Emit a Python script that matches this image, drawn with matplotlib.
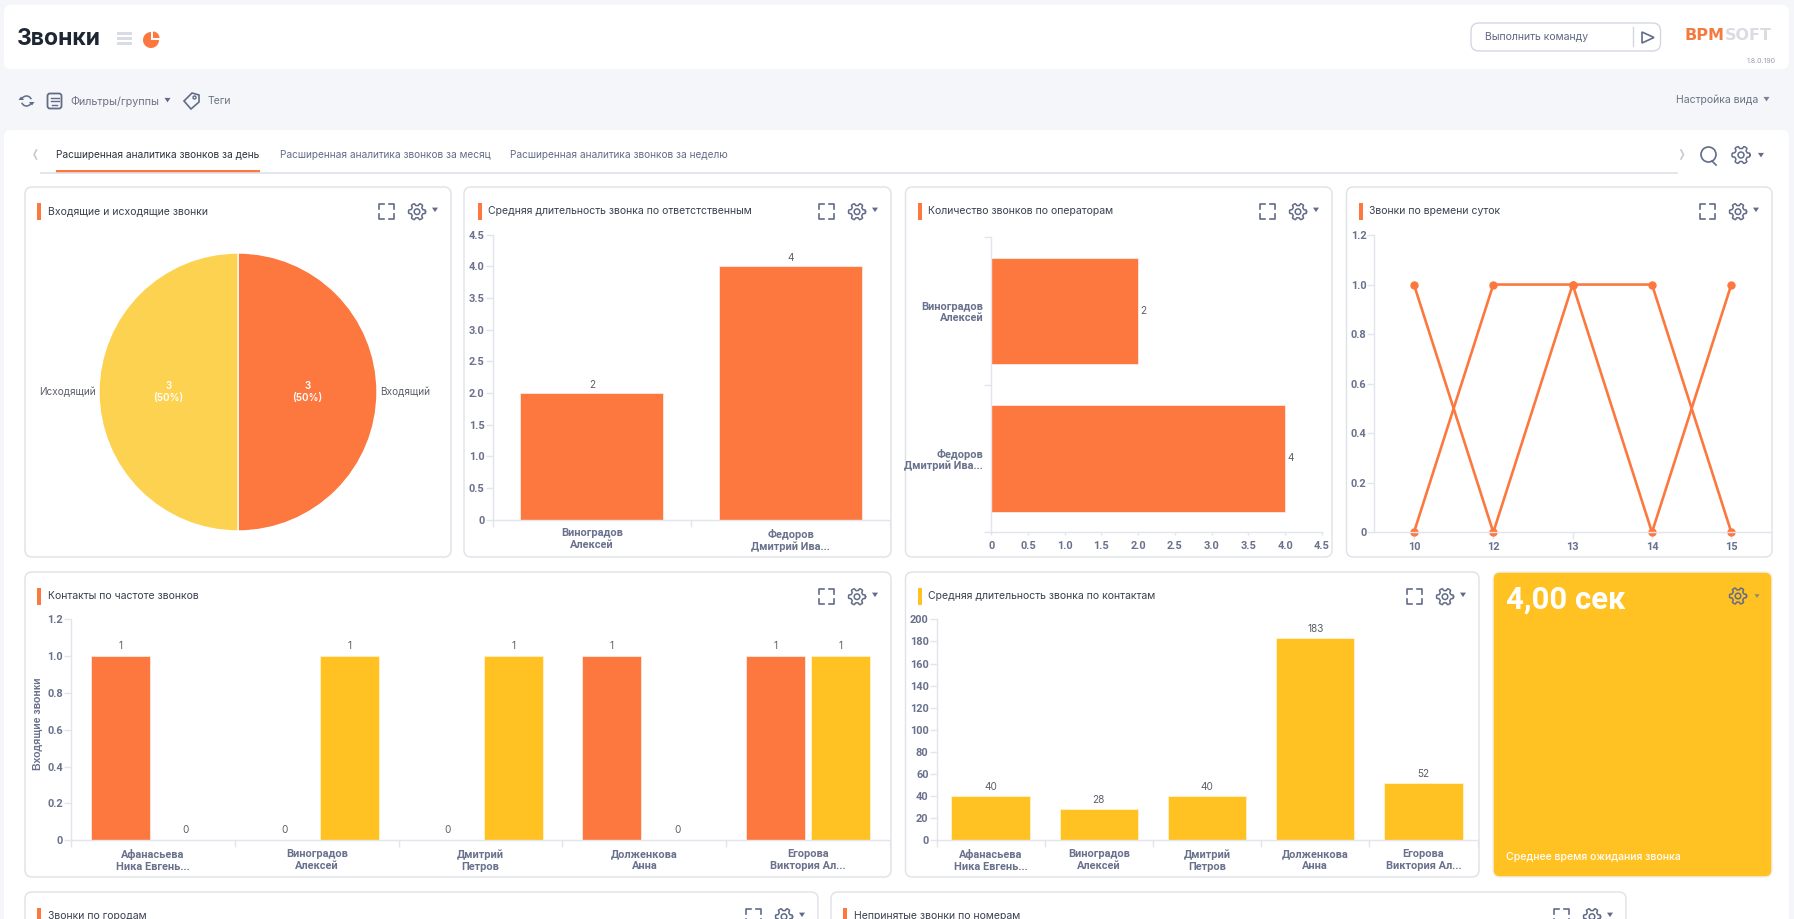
import matplotlib
matplotlib.use("Agg")
import matplotlib.pyplot as plt
import numpy as np
from matplotlib.patches import FancyBboxPatch, Rectangle, Wedge, Circle, Polygon, Arc

W, H = 1794, 919
ORANGE = "#FC783F"
YELLOW = "#FFC222"
PIE_YELLOW = "#FDD250"
AXIS = "#E3E5EC"
TICK = "#69718C"
BORDER = "#DFE1E7"
ICON = "#626C89"
TICK_FONT = {"family": "Roboto", "weight": "bold"}

plt.rcParams["font.family"] = ["Inter", "Roboto", "DejaVu Sans"]

call_types = ["Входящий", "Исходящий"]
call_type_counts = [3, 3]

operators = ["Виноградов\nАлексей", "Федоров\nДмитрий Ива..."]
operator_duration = [2, 4]
operator_calls = [2, 4]
half_ticks = ["0", "0.5", "1.0", "1.5", "2.0", "2.5", "3.0", "3.5", "4.0", "4.5"]
half_values = [0, 0.5, 1, 1.5, 2, 2.5, 3, 3.5, 4, 4.5]

hours = ["10", "12", "13", "14", "15"]
hours_a = [1, 0, 1, 0, 1]
hours_b = [0, 1, 1, 1, 0]
fifth_ticks = ["0", "0.2", "0.4", "0.6", "0.8", "1.0", "1.2"]
fifth_values = [0, 0.2, 0.4, 0.6, 0.8, 1.0, 1.2]

contacts = ["Афанасьева\nНика Евгень...", "Виноградов\nАлексей", "Дмитрий\nПетров",
            "Долженкова\nАнна", "Егорова\nВиктория Ал..."]
contacts_in = [1, 0, 0, 1, 1]
contacts_out = [0, 1, 1, 0, 1]
contact_duration = [40, 28, 40, 183, 52]
duration_values = list(range(0, 201, 20))


def px(size):
    # pixel size to points at dpi 100
    return size * 0.72


fig = plt.figure(figsize=(W / 100, H / 100), dpi=100, facecolor="#F4F6FA")
ui = fig.add_axes([0, 0, 1, 1])
ui.set_xlim(0, W)
ui.set_ylim(H, 0)
ui.axis("off")


def label(x, y, s, size=11, color="#5F6880", ha="left", weight="normal", **kw):
    ui.text(x, y, s, fontsize=px(size), color=color, ha=ha, va="center", weight=weight, **kw)


def card(x0, y0, x1, y1, face="white", edge=BORDER, r=7):
    ui.add_patch(FancyBboxPatch((x0 + r, y0 + r), x1 - x0 - 2 * r, y1 - y0 - 2 * r,
                                boxstyle=f"round,pad={r},rounding_size={r}",
                                fc=face, ec=edge, lw=1))


def triangle(x, y, s=3, color=ICON):
    ui.add_patch(Polygon([(x - s, y - s * 0.7), (x + s, y - s * 0.7), (x, y + s * 0.8)], fc=color, ec="none"))


def gear(x, y, r=8.5, color=ICON):
    ang = np.linspace(0, 2 * np.pi, 145)
    rad = r * (0.86 + 0.14 * np.tanh(3.5 * np.cos(6 * ang)))
    ui.plot(x + rad * np.cos(ang), y + rad * np.sin(ang), color=color, lw=1.1)
    ui.add_patch(Circle((x, y), r * 0.33, fc="none", ec=color, lw=1.1))


def fullscreen(x0, y0, x1, y1, color=ICON):
    s = 5
    for cx, cy, dx, dy in [(x0, y0, 1, 1), (x1, y0, -1, 1), (x0, y1, 1, -1), (x1, y1, -1, -1)]:
        ui.plot([cx, cx, cx + dx * s], [cy + dy * s, cy, cy], color=color, lw=1.2)


def panel(x0, y0, x1, y1, title, accent=ORANGE, inset=12):
    card(x0, y0, x1, y1)
    mid = y0 + 24.7
    ui.add_patch(Rectangle((x0 + inset, mid - 8.5), 4, 17, fc=accent, ec="none"))
    label(x0 + inset + 10.5, mid - 0.8, title, size=10.5, color="#3A4150")
    fullscreen(x1 - 72, mid - 7.5, x1 - 57, mid + 7.5)
    gear(x1 - 34, mid)
    triangle(x1 - 16, mid - 2)


def chart_axes(x0, x1, y_top, y_bottom):
    ax = fig.add_axes([x0 / W, 1 - y_bottom / H, (x1 - x0) / W, (y_bottom - y_top) / H])
    ax.patch.set_alpha(0)
    for side in ["top", "right"]:
        ax.spines[side].set_visible(False)
    for side in ["left", "bottom"]:
        ax.spines[side].set_color(AXIS)
        ax.spines[side].set_linewidth(1)
    ax.tick_params(which="both", color=AXIS, labelcolor=TICK, labelsize=px(11), length=px(7), width=1, pad=px(1))
    return ax


def set_value_ticks(ax, values, names):
    ax.set_yticks(values, names, **TICK_FONT)


def set_band_ticks(ax, names, axis="x", pad=9):
    n = len(names)
    edges = np.arange(n + 1) - 0.5
    centres = np.arange(n)
    if axis == "x":
        ax.set_xlim(-0.5, n - 0.5)
        ax.set_xticks(edges, [""] * (n + 1))
        ax.set_xticks(centres, names, minor=True, linespacing=1.25, **TICK_FONT)
        ax.tick_params(axis="x", which="minor", length=0, pad=px(pad))
    else:
        ax.set_ylim(n - 0.5, -0.5)
        ax.set_yticks(edges, [""] * (n + 1))
        ax.set_yticks(centres, names, minor=True, linespacing=1.1, **TICK_FONT)
        ax.tick_params(axis="y", which="minor", length=0, pad=px(pad))


def bar_labels(ax, bars, size=10, padding=2):
    ax.bar_label(bars, fontsize=px(size), color="#5B5F68", padding=padding)


# page chrome
card(4, 5, 1789, 69, edge="none")
card(4, 130, 1789, 960, edge="none")
label(17, 39, "Звонки", size=23, color="#1E2633", weight="bold")
for yy in [33.5, 38.5, 43.5]:
    ui.add_patch(Rectangle((116.5, yy - 1.5), 15.5, 3, fc="#D9DCE4", ec="none"))
ui.add_patch(Wedge((151, 40), 8, 0, 270, fc=ORANGE, ec="none"))
ui.add_patch(Wedge((153, 38), 6.5, 270, 360, fc=ORANGE, ec="none"))

card(1471, 23, 1660.5, 51, edge="#D4D7E1", r=8)
label(1485, 37.5, "Выполнить команду", size=10.5)
ui.plot([1632.5, 1632.5], [27, 46], color="#D4D7E1", lw=1)
ui.add_patch(Polygon([(1642, 32), (1654, 37.5), (1642, 43)], fc="none", ec=ICON, lw=1.2))
label(1684, 36, "BPM", size=16, color="#F47B3F", weight="bold", family="DejaVu Sans")
label(1725, 36, "SOFT", size=16, color="#DADCE2", weight="bold", family="DejaVu Sans")
label(1776, 61, "1.8.0.190", size=7, color="#9A9DA8", ha="right")

ui.add_patch(Arc((26.5, 101), 10, 10, theta1=200, theta2=340, color=ICON, lw=1.1))
ui.add_patch(Arc((26.5, 101), 10, 10, theta1=20, theta2=160, color=ICON, lw=1.1))
ui.add_patch(Polygon([(18.5, 100), (24, 100), (21, 96.5)], fc=ICON, ec="none"))
ui.add_patch(Polygon([(29, 102), (34.5, 102), (32, 105.5)], fc=ICON, ec="none"))
ui.add_patch(FancyBboxPatch((48.5, 94.5), 12, 13, boxstyle="round,pad=1,rounding_size=2.5", fc="none", ec=ICON, lw=1.3))
for yy, half in [(97.5, 4), (101, 4), (104.5, 2.5)]:
    ui.plot([54.5 - half, 54.5 + half], [yy, yy], color=ICON, lw=1)
label(70, 101.5, "Фильтры/группы", size=10.8, color="#6A7285")
triangle(167.5, 100)
ui.add_patch(Polygon([(192, 93), (199, 95), (199, 102), (191, 109), (184, 101)], fc="none", ec=ICON, lw=1.2))
ui.add_patch(Circle((194.5, 97.5), 1.5, fc="none", ec=ICON, lw=1))
label(208, 101.5, "Теги", size=10.5, color="#6A7285")
label(1675.5, 99.5, "Настройка вида", size=10.5, color="#6A7285")
triangle(1766.5, 99, color="#7A8297")

ui.plot([36.5, 34, 36.5], [150, 154.5, 159], color="#C6C9D2", lw=1.2)
ui.plot([1681, 1683.5, 1681], [150, 154.5, 159], color="#C6C9D2", lw=1.2)
label(56, 155.5, "Расширенная аналитика звонков за день", size=10.1, color="#2C3340")
label(279.5, 155.5, "Расширенная аналитика звонков за месяц", size=10.1, color="#626C85")
label(510, 155.5, "Расширенная аналитика звонков за неделю", size=10.1, color="#626C85")
ui.plot([41, 1677], [172.5, 172.5], color=BORDER, lw=1.2)
ui.add_patch(Rectangle((56, 170), 204, 2.8, fc=ORANGE, ec="none"))
ui.add_patch(Circle((1708.5, 154.5), 7.5, fc="none", ec=ICON, lw=1.2))
ui.plot([1712, 1716], [161, 165], color=ICON, lw=1.2)
gear(1741, 155, r=9)
triangle(1761, 155)

panel(25, 187, 451, 557, "Входящие и исходящие звонки")
panel(464, 187, 891, 557, "Средняя длительность звонка по ответстственным", inset=13.5)
panel(905.5, 187, 1332, 557, "Количество звонков по операторам", inset=12.5)
panel(1346.5, 187, 1772, 557, "Звонки по времени суток")
panel(25, 572, 891, 877, "Контакты по частоте звонков")
panel(905.5, 572, 1479, 877, "Средняя длительность звонка по контактам", accent=YELLOW, inset=12.5)
panel(25, 892, 818, 960, "Звонки по городам")
panel(831, 892, 1626, 960, "Непринятые звонки по номерам")

card(1493, 572, 1772, 877, face=YELLOW, edge="#F2F2F2")
label(1506, 600, "4,00 сек", size=31, color="white", weight="bold", family="Roboto")
label(1506, 857, "Среднее время ожидания звонка", size=10.5, color="white", weight="medium")
gear(1738, 596)
triangle(1757, 596, s=2.5, color="#8C8A70")

# pie
ax = fig.add_axes([99 / W, 1 - 531 / H, 278 / W, 278 / H])
wedges, names, autos = ax.pie(
    call_type_counts, labels=call_types, colors=[ORANGE, PIE_YELLOW], startangle=90, counterclock=False,
    radius=1, labeldistance=1.025, pctdistance=0.5,
    autopct=lambda p: f"{round(p * sum(call_type_counts) / 100)}\n({p:.0f}%)",
    wedgeprops={"edgecolor": "white", "linewidth": 1},
    textprops={"fontsize": px(10)},
)
ax.set_xlim(-1, 1)
ax.set_ylim(-1, 1)
for t in names:
    t.set_color("#5B5F68")
    t.set_clip_on(False)
for t in autos:
    t.set_color("white")
    t.set_weight("semibold")
    t.set_linespacing(1.2)

# average duration by owner
ax = chart_axes(492.5, 890, 234.5, 519.5)
bars = ax.bar(range(len(operators)), operator_duration, width=0.72, color=ORANGE, edgecolor="#FDE3D6", linewidth=0.7)
set_band_ticks(ax, operators)
ax.set_ylim(0, 4.5)
set_value_ticks(ax, half_values, half_ticks)
bar_labels(ax, bars)

# calls by operator
ax = chart_axes(991.2, 1322, 237, 532.3)
bars = ax.barh(range(len(operators)), operator_calls, height=0.72, color=ORANGE, edgecolor="#FDE3D6", linewidth=0.7)
set_band_ticks(ax, operators, axis="y", pad=8)
ax.set_xlim(0, 4.5)
ax.set_xticks(half_values, half_ticks, **TICK_FONT)
ax.tick_params(axis="x", which="major", length=px(3), pad=px(6))
bar_labels(ax, bars, padding=1.5)

# calls by hour
ax = chart_axes(1374.3, 1771, 235, 532.3)
ax.plot(hours, hours_a, color=ORANGE, lw=1.9, marker="o", ms=px(7), clip_on=False)
ax.plot(hours, hours_b, color=ORANGE, lw=1.9, marker="o", ms=px(7), clip_on=False)
ax.set_xlim(-0.5, 4.5)
ax.set_ylim(0, 1.2)
ax.tick_params(axis="x", pad=px(3))
ax.set_xticks(range(len(hours)), hours, **TICK_FONT)
set_value_ticks(ax, fifth_values, fifth_ticks)

# contacts by call frequency
ax = chart_axes(71.2, 890, 619.3, 840.3)
x = np.arange(len(contacts))
bars_in = ax.bar(x - 0.2, contacts_in, width=0.36, color=ORANGE, edgecolor="#FDE3D6", linewidth=0.7)
bars_out = ax.bar(x + 0.2, contacts_out, width=0.36, color=YELLOW, edgecolor="#FFF0C4", linewidth=0.7)
set_band_ticks(ax, contacts)
ax.set_ylim(0, 1.2)
set_value_ticks(ax, fifth_values, fifth_ticks)
bar_labels(ax, bars_in, padding=3.5)
bar_labels(ax, bars_out, padding=3.5)
ax.set_ylabel("Входящие звонки", fontsize=px(10.5), color=TICK, weight="bold", family="Liberation Sans",
              labelpad=px(4), y=0.526)

# average duration by contact
ax = chart_axes(936.5, 1477.5, 619.3, 840.3)
bars = ax.bar(range(len(contacts)), contact_duration, width=0.725, color=YELLOW, edgecolor="#FFF0C4", linewidth=0.7)
set_band_ticks(ax, contacts)
ax.set_ylim(0, 200)
set_value_ticks(ax, duration_values, [str(v) for v in duration_values])
bar_labels(ax, bars, padding=3)

fig.savefig("out.png", dpi=100, facecolor=fig.get_facecolor())
